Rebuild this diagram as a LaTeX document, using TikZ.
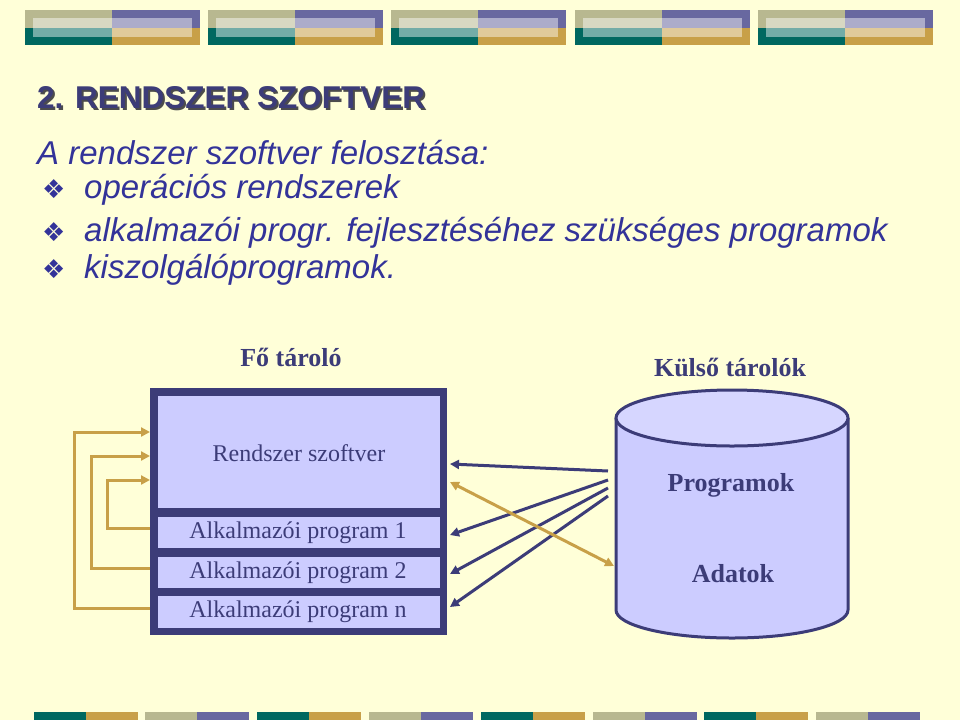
\documentclass[tikz,border=0pt]{standalone}
\usepackage{fontspec}
\setmainfont{Liberation Serif}
\setsansfont{Liberation Sans}
\newfontfamily\symfont{DejaVu Sans}
\usetikzlibrary{arrows.meta}
\definecolor{bg}{HTML}{FFFFD8}
\definecolor{navy}{HTML}{3C3C78}
\definecolor{txtblue}{HTML}{333399}
\definecolor{lav}{HTML}{CCCCFF}
\definecolor{gold}{HTML}{C8A048}
\definecolor{teal}{HTML}{006860}
\definecolor{sage}{HTML}{B8B890}
\definecolor{purp}{HTML}{6868A0}
\tikzset{
  px/.style={x=1pt,y=-1pt},
  goldarr/.style={draw=gold,line width=3pt,-{Triangle[length=9pt,width=9pt]}},
  navarr/.style={draw=navy,line width=3pt,-{Triangle[length=9pt,width=9pt]}},
  cell/.style={fill=lav,draw=none},
  lbl/.style={text=navy,font=\fontsize{24}{28}\selectfont},
  hd/.style={text=navy,font=\bfseries\fontsize{26}{30}\selectfont},
  body/.style={text=txtblue,font=\sffamily\itshape\fontsize{33}{38}\selectfont,anchor=base west,inner sep=0pt},
  bul/.style={text=txtblue,font=\symfont\fontsize{26}{30}\selectfont,anchor=base west,inner sep=0pt}
}
\newcommand{\toptile}[1]{%
  \fill[sage] (#1,10) rectangle ++(87,18);
  \fill[purp] (#1+87,10) rectangle ++(88,18);
  \fill[teal] (#1,28) rectangle ++(87,17);
  \fill[gold] (#1+87,28) rectangle ++(88,17);
  \fill[white,opacity=0.45] (#1+8,18) rectangle (#1+167,37);}
\newcommand{\bottile}[3]{%
  \fill[#2] (#1,712) rectangle ++(52,8);
  \fill[#3] (#1+52,712) rectangle ++(52,8);}
\begin{document}
\begin{tikzpicture}[px]
\fill[bg] (0,0) rectangle (960,720);
\useasboundingbox (0,0) rectangle (960,720);
\foreach \x in {25,208,391,575,758} {\toptile{\x}}
\bottile{34}{teal}{gold}\bottile{145}{sage}{purp}\bottile{257}{teal}{gold}\bottile{369}{sage}{purp}
\bottile{481}{teal}{gold}\bottile{593}{sage}{purp}\bottile{704}{teal}{gold}\bottile{816}{sage}{purp}
% title with shadow
\node[anchor=base west,inner sep=0pt,text=navy,font=\sffamily\bfseries\fontsize{31.5}{34}\selectfont] (title) at (37,108) {\makebox[0pt][l]{\hspace{2pt}\raisebox{-2pt}{\color{black!70}2. RENDSZER SZOFTVER}}2. RENDSZER SZOFTVER};
\node[body] (l0) at (37,164) {A rendszer szoftver felosztása:};
\node[bul] (b1) at (42,198) {❖};
\node[body] (l1) at (84,198) {operációs rendszerek};
\node[bul] (b2) at (42,241) {❖};
\node[body] (l2) at (84,241) {alkalmazói progr. fejlesztéséhez szükséges programok};
\node[bul] (b3) at (42,278) {❖};
\node[body] (l3) at (84,278) {kiszolgálóprogramok.};
% headings
\node[hd] (fo) at (291,357) {Fő tároló};
\node[hd] (kul) at (730,367) {Külső tárolók};
% main store box
\fill[navy] (150,388) rectangle (447,635);
\fill[cell] (158,396) rectangle (440,508);
\fill[cell] (158,517) rectangle (440,548);
\fill[cell] (158,557) rectangle (440,588);
\fill[cell] (158,596) rectangle (440,628);
\node[lbl] (rs) at (299,453) {Rendszer szoftver};
\node[lbl] (a1) at (298,533) {Alkalmazói program 1};
\node[lbl] (a2) at (298,573) {Alkalmazói program 2};
\node[lbl] (an) at (298,612) {Alkalmazói program n};
\coordinate (r1) at (150,432); \coordinate (r2) at (150,456); \coordinate (r3) at (150,480);
\coordinate (s1) at (150,528); \coordinate (s2) at (150,568); \coordinate (s3) at (150,608);
\draw[goldarr] (s3) -- (74,608) -- (74,432) -- (r1);
\draw[goldarr] (s2) -- (91,568) -- (91,456) -- (r2);
\draw[goldarr] (s1) -- (107,528) -- (107,480) -- (r3);
% cylinder
\draw[navy,line width=3pt,fill=lav] (616,418) -- (616,610) arc[start angle=180,end angle=0,x radius=116,y radius=28] -- (848,418);
\draw[navy,line width=3pt,fill=lav!80!white] (732,418) ellipse[x radius=116,y radius=28];
\node[hd] (prog) at (731,485) {Programok};
\node[hd] (adat) at (733,574) {Adatok};
\coordinate (c1) at (608,471); \coordinate (c2) at (608,480); \coordinate (c3) at (608,488); \coordinate (c4) at (608,496);
\coordinate (t1) at (450,464); \coordinate (t2) at (450,535); \coordinate (t3) at (450,574); \coordinate (t4) at (450,607);
\draw[navarr] (c1) -- (t1);
\draw[navarr] (c2) -- (t2);
\draw[navarr] (c3) -- (t3);
\draw[navarr] (c4) -- (t4);
\coordinate (g1) at (450,482); \coordinate (g2) at (614,566);
\draw[goldarr,{Triangle[length=9pt,width=9pt]}-{Triangle[length=9pt,width=9pt]}] (g1) -- (g2);
\end{tikzpicture}
\end{document}
